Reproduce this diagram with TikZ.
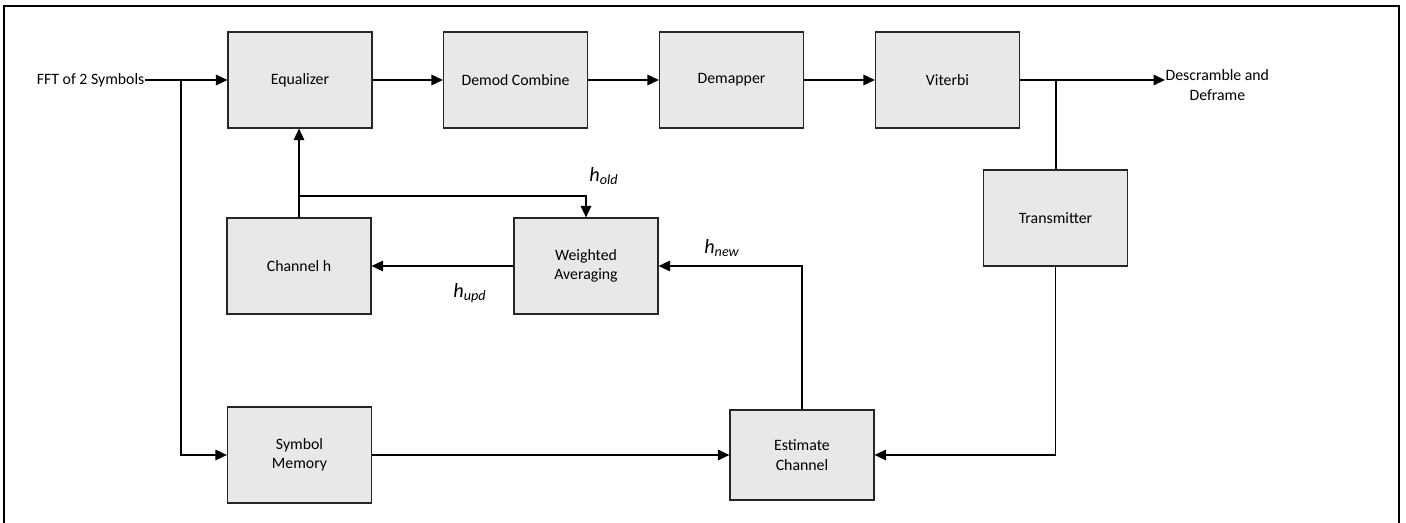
\documentclass[tikz,border=0pt]{standalone}
\usepackage{fontspec}
\setmainfont{Carlito}
\usetikzlibrary{arrows.meta,positioning}
\tikzset{
	box/.style={draw=black!85,fill=black!9,rectangle,align=center,minimum width=2.88cm,minimum height=1.92cm,inner sep=0pt},
	lbl/.style={font=\fontsize{11.5}{13}\selectfont\itshape,inner sep=0pt},
	txt/.style={inner sep=0pt,align=center},
	>={Triangle[length=6.5pt,width=6pt]}
}

\begin{document}
\begin{tikzpicture}[x=0.02cm,y=-0.02cm,line width=0.7pt,font=\fontsize{9}{11}\selectfont]
			\useasboundingbox (0,0) rectangle (1406,523);
			\draw[line width=1.2pt] (4,523) -- (4,6) -- (1399,6) -- (1399,523);
			
			\node[box] (eq) at (300,80) {Equalizer};
			\node[box] (dem) at (515.5,80) {Demod Combine};
			\node[box] (map) at (731.5,80) {Demapper};
			\node[box] (vit) at (947.5,80) {Viterbi};
			\node[box] (tx) at (1055.5,218) {Transmitter};
			\node[box] (chh) at (299,266) {Channel h};
			\node[box] (wavg) at (586,266) {Weighted\\Averaging};
			\node[box] (mem) at (299.5,455) {Symbol\\Memory};
			\node[box,minimum height=1.8cm] (est) at (802,455) {Estimate\\Channel};
			
			\node[txt,anchor=east] (fft) at (145,80) {FFT of 2 Symbols};
			\node[txt,anchor=west] (out) at (1165,85) {Descramble and\\Deframe};
			\node[lbl] (hold) at (604,176) {h\textsubscript{old}};
			\node[lbl] (hupd) at (470,293) {h\textsubscript{upd}};
			\node[lbl] (hnew) at (722,248) {h\textsubscript{new}};
			
			\coordinate (split) at (181,80);
			\coordinate (tap) at (1056,80);
			\coordinate (hsplit) at (299,196);
			
			\draw[->] (fft.east) -- (eq.west);
			\draw[->] (eq) -- (dem);
			\draw[->] (dem) -- (map);
			\draw[->] (map) -- (vit);
			\draw[->] (vit.east) -- (vit.east -| out.west);
			\draw (tap) -- (tap |- tx.north);
			\draw[->] (split) |- (mem.west);
			\draw[->] (mem) -- (est);
			\draw[->] (tx.south) |- (est.east);
			\draw[->] (est.north) |- (wavg.east);
			\draw[->] (wavg.west) -- (chh.east);
			\draw[->] (chh.north) -- (chh.north |- eq.south);
			\draw[->] (hsplit) -| (wavg.north);
		\end{tikzpicture}
\end{document}
